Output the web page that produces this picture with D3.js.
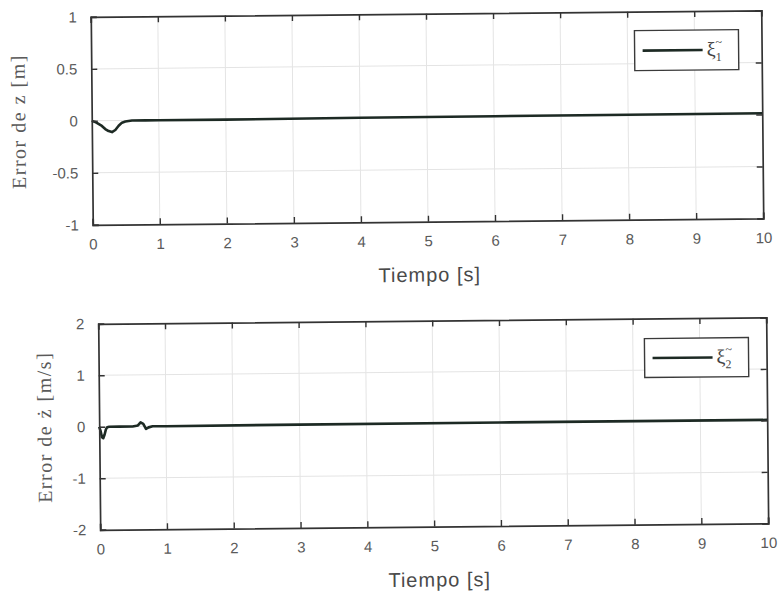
<!DOCTYPE html>
<html>
<head>
<meta charset="utf-8">
<script src="https://cdn.jsdelivr.net/npm/d3@7"></script>
<style>
  html, body { margin: 0; padding: 0; background: #fff; }
  svg { display: block; }
</style>
</head>
<body>
<svg id="chart" width="784" height="599"></svg>
<script>
// Position error (top panel)
const timeZ = [0, 0.05, 0.1, 0.15, 0.2, 0.25, 0.3, 0.35, 0.4, 0.45, 0.5, 0.6, 0.8, 1, 2, 4, 6, 8, 10];
const errZ  = [0, -0.01, -0.03, -0.05, -0.08, -0.1, -0.11, -0.09, -0.05, -0.02, -0.01, 0, 0, 0, 0, 0.005, 0.008, 0.01, 0.012];

// Velocity error (bottom panel)
const timeV = [0, 0.02, 0.04, 0.06, 0.08, 0.1, 0.12, 0.15, 0.3, 0.5, 0.58, 0.62, 0.66, 0.7, 0.74, 0.8, 1, 3, 6, 10];
const errV  = [0, -0.08, -0.2, -0.22, -0.15, -0.05, -0.01, 0, 0, 0, 0.02, 0.08, 0.05, -0.05, -0.02, 0, 0, 0.005, 0.01, 0.01];

const xTicks  = [0, 1, 2, 3, 4, 5, 6, 7, 8, 9, 10];
const yTicksZ = [-1, -0.5, 0, 0.5, 1];
const yTicksV = [-2, -1, 0, 1, 2];

const svg = d3.select("#chart");
const root = svg.append("g").attr("transform", "rotate(-0.55 392 300)");

const lineColor = "#1d2a24";
const tickText = "#5a5a5a";
const plainNum = d => String(d);

function panel(cfg) {
  const g = root.append("g");
  const x = d3.scaleLinear().domain([0, 10]).range([cfg.left, cfg.right]);
  const y = d3.scaleLinear().domain(cfg.yDomain).range([cfg.bottom, cfg.top]);

  // grid
  g.append("g").selectAll("line").data(xTicks.slice(1, -1)).join("line")
    .attr("x1", d => x(d)).attr("x2", d => x(d))
    .attr("y1", cfg.top).attr("y2", cfg.bottom)
    .attr("stroke", "#e4e4e4").attr("stroke-width", 1);
  g.append("g").selectAll("line").data(cfg.yTicks.slice(1, -1)).join("line")
    .attr("y1", d => y(d)).attr("y2", d => y(d))
    .attr("x1", cfg.left).attr("x2", cfg.right)
    .attr("stroke", "#e4e4e4").attr("stroke-width", 1);

  // data line
  const line = d3.line().x((d, i) => x(cfg.t[i])).y(d => y(d));
  g.append("path").datum(cfg.v)
    .attr("d", line)
    .attr("fill", "none")
    .attr("stroke", lineColor)
    .attr("stroke-width", 2.6)
    .attr("stroke-linejoin", "round");

  // axes with inward ticks
  const axB = d3.axisBottom(x).tickValues(xTicks).tickSize(-6).tickPadding(14).tickFormat(plainNum);
  const axT = d3.axisTop(x).tickValues(xTicks).tickSize(-6).tickFormat("");
  const axL = d3.axisLeft(y).tickValues(cfg.yTicks).tickSize(-6).tickPadding(14).tickFormat(plainNum);
  const axR = d3.axisRight(y).tickValues(cfg.yTicks).tickSize(-6).tickFormat("");

  const styleAxis = sel => {
    sel.selectAll("path").attr("stroke", "#333").attr("stroke-width", 1.7);
    sel.selectAll("line").attr("stroke", "#333").attr("stroke-width", 1.4);
    sel.selectAll("text").attr("fill", tickText)
      .style("font-family", "Arial, 'Liberation Sans', sans-serif")
      .style("font-size", "15px");
  };
  g.append("g").attr("transform", `translate(0,${cfg.bottom})`).call(axB).call(styleAxis);
  g.append("g").attr("transform", `translate(0,${cfg.top})`).call(axT).call(styleAxis);
  g.append("g").attr("transform", `translate(${cfg.left},0)`).call(axL).call(styleAxis);
  g.append("g").attr("transform", `translate(${cfg.right},0)`).call(axR).call(styleAxis);
  g.selectAll(".domain").attr("fill", "none");

  // x label
  g.append("text")
    .attr("x", cfg.xLabelX).attr("y", cfg.bottom + 60)
    .attr("text-anchor", "middle")
    .attr("fill", "#4a4a4a")
    .style("font-family", "Arial, 'Liberation Sans', sans-serif")
    .style("font-size", "20px")
    .style("letter-spacing", "1px")
    .text("Tiempo [s]");

  // y label
  g.append("text")
    .attr("transform", `translate(${cfg.yLabelX},${(cfg.top + cfg.bottom) / 2}) rotate(-90)`)
    .attr("text-anchor", "middle")
    .attr("fill", "#5a5a5a")
    .style("font-family", "'Liberation Serif', 'Times New Roman', serif")
    .style("font-size", "20px")
    .style("letter-spacing", "1.5px")
    .text(cfg.yLabel);

  // legend
  const lg = g.append("g");
  lg.append("rect")
    .attr("x", cfg.legend.x).attr("y", cfg.legend.y)
    .attr("width", cfg.legend.w).attr("height", cfg.legend.h)
    .attr("fill", "#fff").attr("stroke", "#3a3a3a").attr("stroke-width", 1.4);
  const ly = cfg.legend.y + cfg.legend.h / 2;
  lg.append("line")
    .attr("x1", cfg.legend.x + 8).attr("x2", cfg.legend.x + 68)
    .attr("y1", ly).attr("y2", ly)
    .attr("stroke", lineColor).attr("stroke-width", 2.6);
  const lt = lg.append("text")
    .attr("x", cfg.legend.x + 72).attr("y", ly + 6)
    .attr("fill", "#444")
    .style("font-family", "'Liberation Serif', 'Times New Roman', serif")
    .style("font-size", "20px");
  lt.append("tspan").text("ξ");
  lt.append("tspan").attr("dy", 5).style("font-size", "12px").text(cfg.sub);
  lt.append("tspan").attr("dx", -6).attr("dy", -15).style("font-size", "12px").text("~");
}

panel({
  left: 93.5, right: 764, top: 14, bottom: 222,
  yDomain: [-1, 1], yTicks: yTicksZ,
  t: timeZ, v: errZ,
  xLabelX: 430, yLabelX: 27,
  yLabel: "Error de z [m]",
  legend: { x: 637, y: 33, w: 104, h: 40 },
  sub: "1"
});

panel({
  left: 98, right: 766, top: 321, bottom: 527,
  yDomain: [-2, 2], yTicks: yTicksV,
  t: timeV, v: errV,
  xLabelX: 437, yLabelX: 50,
  yLabel: "Error de ż [m/s]",
  legend: { x: 644, y: 341, w: 104, h: 39 },
  sub: "2"
});
</script>
</body>
</html>
